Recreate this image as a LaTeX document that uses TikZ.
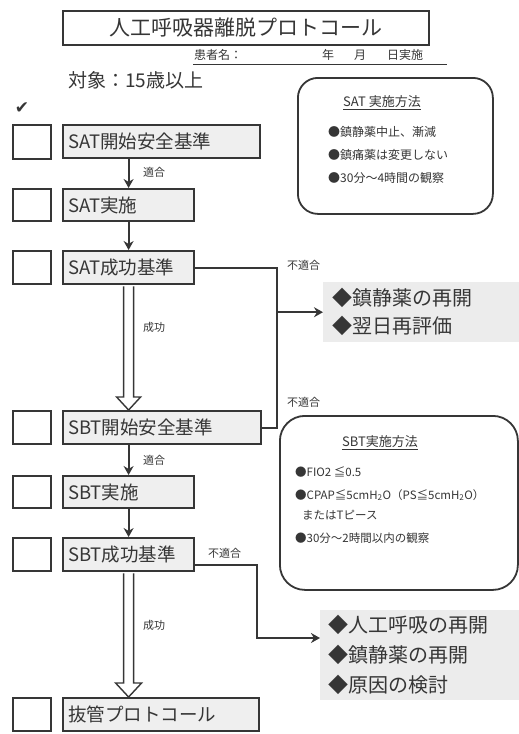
\documentclass[tikz,border=0pt]{standalone}
\usepackage{fontspec}
\setmainfont{Noto Sans CJK JP}
\newfontfamily\symfont{DejaVu Sans}
\usetikzlibrary{arrows.meta,calc}
\definecolor{ink}{HTML}{363636}
\definecolor{boxfill}{HTML}{EFEFEF}
\definecolor{outfill}{HTML}{ECECEC}
\begin{document}
\begin{tikzpicture}[x=1pt,y=-1pt,
  stepbox/.style={draw=ink, line width=2.2pt, fill=boxfill, anchor=north west,
    minimum height=33pt, inner xsep=5pt, inner ysep=0pt, align=left, text=ink,
    font=\fontsize{18.5}{20}\selectfont},
  checkbox/.style={draw=ink, line width=2.2pt, fill=white, anchor=north west,
    minimum width=38pt, minimum height=34pt, inner sep=0pt},
  conn/.style={draw=ink, line width=1.8pt},
  arr/.style={draw=ink, line width=1.8pt, -{Stealth[length=9pt,width=10pt]}},
  hollow/.style={draw=ink, line width=1.4pt, fill=white, line join=miter},
  lab/.style={anchor=west, inner sep=0pt, text=ink, font=\fontsize{11}{12}\selectfont},
  hdr/.style={anchor=west, inner sep=0pt, text=ink, font=\fontsize{12}{13}\selectfont},
  roundbox/.style={draw=ink, line width=1.8pt, anchor=north west, fill=white},
  bul/.style={anchor=west, inner sep=0pt, text=ink, font=\fontsize{12}{13}\selectfont},
  sbul/.style={anchor=west, inner sep=0pt, text=ink, font=\fontsize{11.5}{13}\selectfont},
  outbox/.style={fill=outfill, anchor=north west, align=left, inner ysep=0pt, text=ink}
]
\useasboundingbox (0,0) rectangle (519,734);
\clip (0,0) rectangle (519,734);

% title and header
\node[draw=ink, line width=2pt, minimum width=366pt, minimum height=34pt, anchor=north west,
  inner sep=0pt, text=ink, font=\fontsize{21}{24}\selectfont] (title) at (62,10) {人工呼吸器離脱プロトコール};
\node[hdr] (pname) at (194,55) {患者名：};
\node[hdr] (yr) at (322,55) {年};
\node[hdr] (mo) at (354,55) {月};
\node[hdr] (dt) at (387,55) {日実施};
\draw[ink, line width=0.8pt] (193,64) -- (447,64);
\node[anchor=west, inner sep=0pt, text=ink, font=\fontsize{19}{22}\selectfont] (target) at (68,80) {対象：15歳以上};
\node[inner sep=0pt, text=ink] (check) at (22,108) {\symfont\fontsize{17}{18}\selectfont ✔};

% method boxes
\node[roundbox, minimum width=195pt, minimum height=136pt, rounded corners=20pt] (satm) at (297,77) {};
\node[inner sep=0pt, text=ink, font=\fontsize{13}{14}\selectfont] (satmt) at (382,103) {\underline{SAT 実施方法}};
\node[bul] (satm1) at (328,132) {●鎮静薬中止、漸減};
\node[bul] (satm2) at (328,155) {●鎮痛薬は変更しない};
\node[bul] (satm3) at (328,178) {●30分～4時間の観察};

\node[roundbox, minimum width=238pt, minimum height=174pt, rounded corners=25pt] (sbtm) at (279,415) {};
\node[inner sep=0pt, text=ink, font=\fontsize{13}{14}\selectfont] (sbtmt) at (380,443) {\underline{SBT実施方法}};
\node[sbul] (sbtm1) at (295,472) {●FIO2 ≦0.5};
\node[sbul] (sbtm2) at (295,495) {●CPAP≦5cmH\textsubscript{2}O（PS≦5cmH\textsubscript{2}O）};
\node[sbul] (sbtm3) at (302,515) {またはTピース};
\node[sbul] (sbtm4) at (295,538) {●30分～2時間以内の観察};

% outcome boxes
\node[outbox, minimum width=196pt, minimum height=60pt, text width=178pt, inner xsep=9pt,
  font=\fontsize{20}{28}\selectfont] (out1) at (323,282) {◆鎮静薬の再開\\◆翌日再評価};
\node[outbox, minimum width=199pt, minimum height=90pt, text width=183pt, inner xsep=8pt,
  font=\fontsize{20}{30}\selectfont] (out2) at (320,610) {◆人工呼吸の再開\\◆鎮静薬の再開\\◆原因の検討};

% step boxes
\node[stepbox, text width=187pt] (satstart) at (62,124) {SAT開始安全基準};
\node[stepbox, text width=121pt, minimum height=32pt] (satdo) at (62,188) {SAT実施};
\node[stepbox, text width=121pt] (satok) at (62,250) {SAT成功基準};
\node[stepbox, text width=188pt] (sbtstart) at (62,410) {SBT開始安全基準};
\node[stepbox, text width=121pt, minimum height=32pt] (sbtdo) at (62,475) {SBT実施};
\node[stepbox, text width=121pt] (sbtok) at (62,537) {SBT成功基準};
\node[stepbox, text width=186pt] (extub) at (62,697) {抜管プロトコール};

% check boxes
\node[checkbox] (cb1) at (12,124) {};
\node[checkbox, minimum height=32pt] (cb2) at (12,188) {};
\node[checkbox, minimum height=33pt] (cb3) at (12,250) {};
\node[checkbox, minimum height=33pt] (cb4) at (12,410) {};
\node[checkbox, minimum height=32pt] (cb5) at (12,475) {};
\node[checkbox, minimum height=33pt] (cb6) at (12,537) {};
\node[checkbox, minimum height=33pt] (cb7) at (12,697) {};

% single arrows
\draw[arr] (satdo.north |- satstart.south) -- (satdo.north);
\draw[arr] (satdo.south) -- (satok.north);
\draw[arr] (sbtdo.north |- sbtstart.south) -- (sbtdo.north);
\draw[arr] (sbtdo.south) -- (sbtok.north);
\node[lab] (l1) at (143,172) {適合};
\node[lab] (l2) at (143,460) {適合};

% hollow arrows
\coordinate (h1a) at (satok.south);
\coordinate (h1b) at (satok.south |- sbtstart.north);
\draw[hollow] ($(h1a)+(-5,1.2)$) -- ($(h1b)+(-5,-13)$) -- ($(h1b)+(-12,-13)$) -- (h1b)
  -- ($(h1b)+(12,-13)$) -- ($(h1b)+(5,-13)$) -- ($(h1a)+(5,1.2)$);
\coordinate (h2a) at (sbtok.south);
\coordinate (h2b) at (sbtok.south |- extub.north);
\draw[hollow] ($(h2a)+(-5,1.2)$) -- ($(h2b)+(-5,-14)$) -- ($(h2b)+(-13,-14)$) -- (h2b)
  -- ($(h2b)+(13,-14)$) -- ($(h2b)+(5,-14)$) -- ($(h2a)+(5,1.2)$);
\node[lab] (l3) at (143,327) {成功};
\node[lab] (l4) at (143,625) {成功};

% SAT failure bus
\coordinate (busx) at (277,0);
\draw[conn] (satok.east) -- (satok.east -| busx) -- (busx |- sbtstart.east) -- (sbtstart.east);
\draw[arr] (busx |- out1.west) -- (out1.west);
\node[lab] (l5) at (287,265) {不適合};
\node[lab] (l6) at (287,402) {不適合};

% SBT failure
\coordinate (k2) at (257,638);
\draw[arr] ($(sbtok.south east)+(0,-7)$) -| (k2) -- (k2 -| out2.west);
\node[lab] (l7) at (208,553) {不適合};
\end{tikzpicture}
\end{document}
